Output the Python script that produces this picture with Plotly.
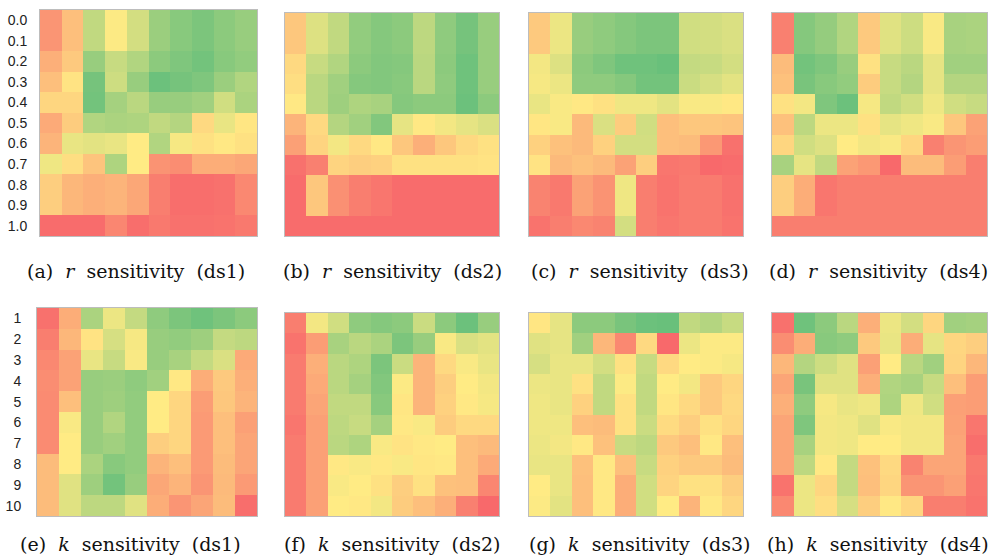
import plotly.graph_objects as go

# Row labels for the two parameter sweeps
r_labels = ["0.0", "0.1", "0.2", "0.3", "0.4", "0.5", "0.6", "0.7", "0.8", "0.9", "1.0"]
k_labels = ["1", "2", "3", "4", "5", "6", "7", "8", "9", "10"]
col_ids = list(range(10))

# Scores on a 0-100 scale (0 = worst / red, 50 = mid / yellow, 100 = best / green)
r_ds1 = [
    [17, 33, 70, 51, 64, 82, 88, 92, 87, 83],
    [17, 33, 70, 51, 64, 82, 88, 92, 87, 83],
    [27, 37, 83, 68, 75, 87, 91, 95, 88, 85],
    [33, 47, 94, 66, 83, 97, 94, 91, 82, 75],
    [42, 42, 95, 79, 72, 83, 83, 80, 65, 77],
    [25, 38, 75, 77, 76, 70, 74, 43, 57, 48],
    [29, 57, 59, 57, 50, 75, 53, 46, 49, 46],
    [55, 45, 35, 76, 50, 16, 14, 26, 26, 24],
    [39, 30, 27, 29, 24, 8, 2, 2, 3, 12],
    [39, 30, 27, 29, 24, 8, 2, 2, 3, 12],
    [1, 1, 1, 11, 2, 6, 3, 3, 4, 6],
]
r_ds2 = [
    [36, 61, 70, 85, 89, 87, 71, 86, 94, 83],
    [36, 61, 70, 85, 89, 87, 71, 86, 94, 83],
    [43, 68, 75, 87, 90, 89, 72, 87, 96, 83],
    [45, 72, 80, 89, 90, 88, 72, 86, 96, 83],
    [49, 72, 81, 76, 78, 89, 87, 87, 97, 87],
    [29, 43, 74, 80, 90, 58, 49, 54, 58, 62],
    [21, 41, 54, 43, 49, 36, 27, 36, 43, 46],
    [3, 9, 41, 39, 40, 46, 46, 46, 46, 47],
    [1, 36, 15, 8, 5, 1, 1, 1, 1, 1],
    [1, 36, 15, 8, 5, 1, 1, 1, 1, 1],
    [1, 1, 1, 1, 1, 1, 1, 1, 1, 1],
]
r_ds3 = [
    [37, 56, 83, 86, 89, 92, 92, 65, 64, 62],
    [37, 56, 83, 86, 89, 92, 92, 65, 64, 62],
    [54, 61, 87, 91, 96, 96, 98, 69, 68, 64],
    [53, 56, 86, 86, 89, 95, 95, 67, 63, 59],
    [57, 52, 49, 46, 55, 55, 59, 52, 52, 49],
    [48, 52, 31, 62, 38, 65, 33, 36, 36, 35],
    [40, 34, 31, 40, 64, 64, 33, 32, 18, 3],
    [47, 31, 34, 31, 22, 39, 5, 6, 0, 1],
    [10, 6, 22, 16, 55, 8, 4, 7, 7, 3],
    [10, 6, 22, 16, 55, 8, 4, 7, 7, 3],
    [4, 8, 12, 10, 64, 8, 5, 7, 7, 4],
]
r_ds4 = [
    [9, 89, 84, 75, 37, 60, 66, 52, 78, 77],
    [9, 89, 84, 75, 37, 60, 66, 52, 78, 77],
    [32, 95, 91, 83, 46, 68, 72, 58, 80, 80],
    [34, 93, 88, 85, 38, 68, 74, 58, 74, 74],
    [46, 54, 91, 97, 53, 70, 65, 55, 65, 68],
    [34, 71, 56, 56, 46, 58, 55, 52, 36, 22],
    [42, 65, 61, 50, 54, 52, 42, 9, 17, 20],
    [78, 58, 70, 22, 18, 0, 32, 32, 20, 8],
    [39, 26, 5, 8, 8, 8, 8, 8, 8, 8],
    [39, 26, 5, 8, 8, 8, 8, 8, 8, 8],
    [8, 8, 8, 8, 8, 8, 8, 8, 8, 8],
]
k_ds1 = [
    [3, 26, 77, 56, 69, 86, 92, 96, 92, 87],
    [8, 30, 47, 63, 53, 83, 85, 81, 69, 71],
    [12, 22, 57, 68, 52, 83, 78, 69, 62, 25],
    [14, 22, 83, 82, 86, 80, 49, 26, 37, 27],
    [13, 33, 83, 81, 85, 50, 42, 20, 36, 29],
    [13, 52, 83, 75, 85, 50, 42, 19, 33, 21],
    [13, 50, 83, 80, 85, 39, 42, 19, 33, 23],
    [32, 50, 77, 88, 85, 29, 33, 19, 32, 23],
    [32, 60, 81, 95, 83, 24, 29, 17, 31, 19],
    [32, 60, 71, 71, 60, 26, 17, 23, 32, 2],
]
k_ds2 = [
    [8, 54, 65, 86, 89, 87, 67, 87, 97, 83],
    [4, 20, 78, 72, 77, 92, 83, 52, 62, 59],
    [7, 27, 72, 76, 92, 67, 29, 43, 52, 57],
    [7, 25, 72, 79, 90, 51, 29, 39, 50, 54],
    [7, 23, 70, 70, 88, 48, 29, 40, 49, 53],
    [5, 21, 71, 68, 79, 49, 52, 38, 43, 43],
    [7, 21, 72, 76, 52, 47, 49, 50, 33, 31],
    [7, 21, 49, 52, 49, 52, 48, 49, 33, 25],
    [7, 21, 52, 50, 46, 39, 46, 34, 33, 11],
    [7, 21, 50, 49, 54, 38, 33, 27, 9, 0],
]
k_ds3 = [
    [48, 58, 87, 87, 93, 97, 98, 70, 74, 68],
    [60, 58, 80, 30, 12, 43, 0, 56, 51, 51],
    [63, 57, 57, 64, 46, 68, 43, 50, 51, 53],
    [56, 57, 46, 70, 51, 70, 50, 54, 37, 42],
    [55, 57, 40, 70, 46, 70, 48, 43, 37, 43],
    [55, 55, 33, 32, 46, 67, 44, 39, 46, 42],
    [56, 54, 49, 34, 68, 71, 37, 33, 49, 33],
    [57, 57, 34, 49, 33, 68, 40, 37, 37, 32],
    [50, 57, 33, 49, 26, 65, 41, 46, 46, 39],
    [51, 59, 33, 49, 26, 65, 50, 29, 49, 42],
]
k_ds4 = [
    [3, 96, 87, 72, 27, 56, 64, 42, 80, 79],
    [14, 26, 88, 86, 37, 57, 26, 58, 42, 39],
    [30, 74, 66, 60, 21, 50, 72, 80, 41, 30],
    [23, 93, 60, 60, 27, 75, 78, 68, 33, 20],
    [27, 86, 53, 57, 55, 76, 55, 65, 21, 20],
    [23, 91, 54, 55, 60, 52, 54, 54, 22, 5],
    [23, 78, 54, 55, 50, 50, 54, 54, 23, 2],
    [23, 71, 49, 69, 34, 43, 10, 23, 23, 6],
    [4, 56, 42, 69, 33, 42, 17, 17, 21, 5],
    [12, 56, 45, 63, 39, 49, 42, 8, 8, 4],
]

W, H = 995, 559
colorscale = [[0.0, "#F8696B"], [0.5, "#FFEB84"], [1.0, "#63BE7B"]]
SP = "&nbsp;"

# (data, row labels, tag, parameter, dataset, left, right, top, bottom, caption centre) in pixels
panels = [
    (r_ds1, r_labels, "(a)", "r", "ds1", 40, 257, 10, 236, 136),
    (r_ds2, r_labels, "(b)", "r", "ds2", 285, 499, 13, 236, 392),
    (r_ds3, r_labels, "(c)", "r", "ds3", 529, 743, 13, 236, 640),
    (r_ds4, r_labels, "(d)", "r", "ds4", 772, 987, 13, 236, 878),
    (k_ds1, k_labels, "(e)", "k", "ds1", 37, 257, 308, 516, 130),
    (k_ds2, k_labels, "(f)", "k", "ds2", 285, 499, 313, 516, 392),
    (k_ds3, k_labels, "(g)", "k", "ds3", 529, 743, 313, 516, 640),
    (k_ds4, k_labels, "(h)", "k", "ds4", 772, 987, 313, 516, 878),
]

fig = go.Figure()
layout = {}
annotations = []
for i, (z, rows, tag, param, ds, x0, x1, y0, y1, cx) in enumerate(panels):
    n = i + 1
    xa = "x" if n == 1 else f"x{n}"
    ya = "y" if n == 1 else f"y{n}"
    fig.add_trace(go.Heatmap(
        z=z, x=col_ids, y=rows,
        colorscale=colorscale, zmin=0, zmax=100,
        showscale=False, xaxis=xa, yaxis=ya, hoverinfo="skip",
    ))
    show_rows = i in (0, 4)
    xkey = "xaxis" if n == 1 else f"xaxis{n}"
    ykey = "yaxis" if n == 1 else f"yaxis{n}"
    layout[xkey] = dict(
        domain=[x0 / W, x1 / W], anchor=ya, showticklabels=False, ticks="",
        showgrid=False, zeroline=False, showline=True, mirror=True,
        linecolor="#BDBDBD", linewidth=1,
    )
    layout[ykey] = dict(
        domain=[1 - y1 / H, 1 - y0 / H], anchor=xa, autorange="reversed",
        type="category", showticklabels=show_rows, ticks="",
        ticklabelstandoff=9 if i == 0 else 12,
        tickfont=dict(family="Liberation Sans, Arial, sans-serif", size=14, color="#222"),
        showgrid=False, zeroline=False, showline=True, mirror=True,
        linecolor="#BDBDBD", linewidth=1,
    )
    caption = f"{tag}{SP}{SP}<i>{param}</i>{SP}{SP}sensitivity{SP}{SP}({ds})"
    cap_y = 271 if i < 4 else 544
    annotations.append(dict(
        text=caption, xref="paper", yref="paper",
        x=cx / W, y=1 - cap_y / H,
        xanchor="center", yanchor="middle", showarrow=False,
        font=dict(family="DejaVu Serif", size=19, color="#111"),
    ))

fig.update_layout(
    width=W, height=H, margin=dict(l=0, r=0, t=0, b=0),
    paper_bgcolor="white", plot_bgcolor="white",
    annotations=annotations, **layout,
)
fig.write_html("out.html")
